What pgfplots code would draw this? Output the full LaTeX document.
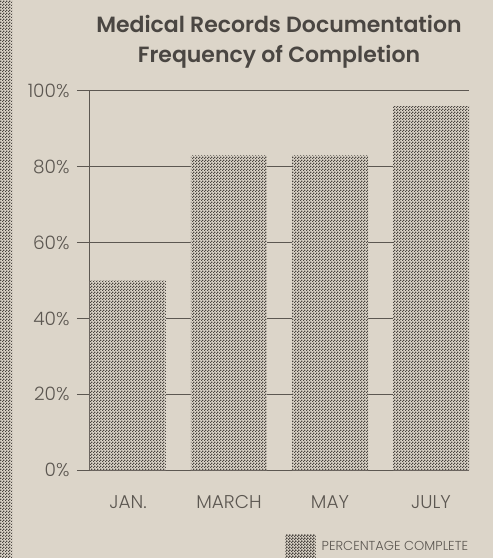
\documentclass[border=0pt]{standalone}
\usepackage{pgfplots}
\pgfplotsset{compat=1.18}
\usepackage{fontspec}
\setmainfont{Poppins}
\newfontfamily\lightfont{Poppins Light}
\newfontfamily\titlefont{Poppins SemiBold}
\usetikzlibrary{patterns}

\definecolor{paper}{HTML}{DCD5C9}
\definecolor{ink}{HTML}{5C5751}
\definecolor{dots}{HTML}{4A4540}
\definecolor{titlec}{HTML}{4A4642}

% fine halftone like the printed bars
\pgfdeclarepatternformonly{halftone}{\pgfpointorigin}{\pgfpoint{3pt}{3pt}}{\pgfpoint{3pt}{3pt}}{%
  \pgfpathrectangle{\pgfpointorigin}{\pgfpoint{1.5pt}{1.5pt}}%
  \pgfpathrectangle{\pgfpoint{1.5pt}{1.5pt}}{\pgfpoint{1.5pt}{1.5pt}}%
  \pgfusepath{fill}}

\begin{document}
\begin{tikzpicture}[x=1pt,y=1pt]
  \path[use as bounding box] (0,0) rectangle (493,558);
  \fill[paper] (0,0) rectangle (493,558);
  \fill[paper, postaction={pattern=halftone, pattern color=dots}] (0,0) rectangle (12,558);

  \node[anchor=base, font=\titlefont\fontsize{22}{28}\selectfont, text=titlec] at (279,525) {Medical Records Documentation};
  \node[anchor=base, font=\titlefont\fontsize{22}{28}\selectfont, text=titlec] at (279,495) {Frequency of Completion};

  \begin{axis}[
    at={(90pt,88pt)}, anchor=south west,
    scale only axis, width=379pt, height=379pt,
    xmin=-0.376, xmax=3.376, ymin=0, ymax=100,
    axis lines*=left,
    axis line style={ink, line width=1pt},
    ybar, bar width=76pt,
    xtick={0,1,2,3},
    xticklabels={JAN.,MARCH,MAY,JULY},
    xtick style={draw=none},
    ytick={0,20,40,60,80,100},
    yticklabels={0\%,20\%,40\%,60\%,80\%,100\%},
    tick align=outside, major tick length=13pt,
    ytick style={ink, line width=1pt},
    ymajorgrids, grid style={ink, line width=1pt},
    tick label style={font=\lightfont\fontsize{18.5}{20}\selectfont, text=ink},
    x tick label style={yshift=-9pt, text height=13pt, text depth=0pt},
    y tick label style={xshift=-4pt},
    legend style={at={(0.508,-0.203)}, anchor=west, draw=none, fill=none,
      column sep=4pt,
      font=\lightfont\fontsize{13}{15}\selectfont, text=ink},
  ]
    \addplot[draw=none, fill=paper, postaction={pattern=halftone, pattern color=dots},
      legend image code/.code={\fill[paper, postaction={pattern=halftone, pattern color=dots}] (0pt,-12pt) rectangle (30pt,12pt);}]
      coordinates {(0,50) (1,83) (2,83) (3,96)};
    \legend{PERCENTAGE COMPLETE}
  \end{axis}
\end{tikzpicture}
\end{document}
